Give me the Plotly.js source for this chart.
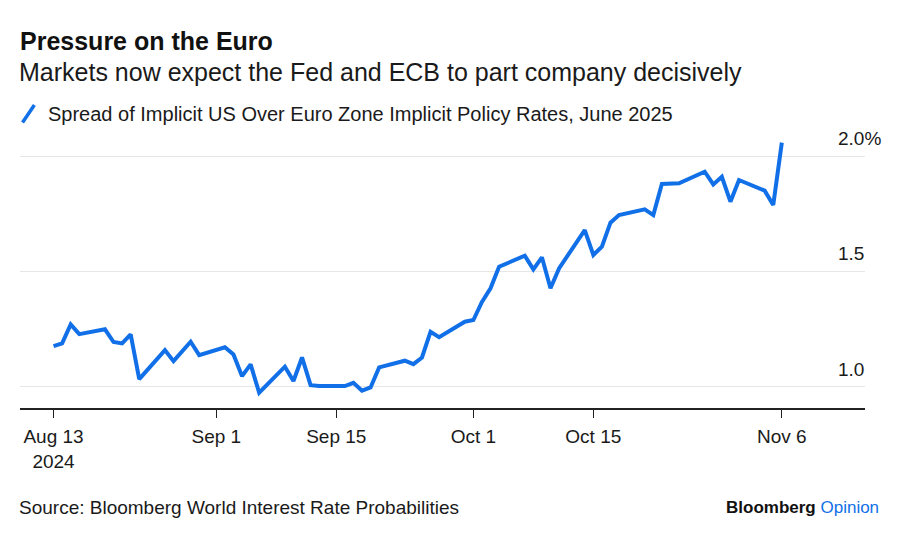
<!DOCTYPE html>
<html>
<head>
<meta charset="utf-8">
<script src="https://cdn.plot.ly/plotly-3.0.1.min.js"></script>
<style>html,body{margin:0;padding:0;background:#fff;}#chart{width:900px;height:538px;}</style>
</head>
<body>
<div id="chart"></div>
<script>
var dates = [
  "2024-08-13","2024-08-14","2024-08-15","2024-08-16","2024-08-19","2024-08-20","2024-08-21","2024-08-22","2024-08-23",
  "2024-08-26","2024-08-27","2024-08-28","2024-08-29","2024-08-30",
  "2024-09-02","2024-09-03","2024-09-04","2024-09-05","2024-09-06",
  "2024-09-09","2024-09-10","2024-09-11","2024-09-12","2024-09-13",
  "2024-09-16","2024-09-17","2024-09-18","2024-09-19","2024-09-20",
  "2024-09-23","2024-09-24","2024-09-25","2024-09-26","2024-09-27",
  "2024-09-30","2024-10-01","2024-10-02","2024-10-03","2024-10-04",
  "2024-10-07","2024-10-08","2024-10-09","2024-10-10","2024-10-11",
  "2024-10-14","2024-10-15","2024-10-16","2024-10-17","2024-10-18",
  "2024-10-21","2024-10-22","2024-10-23","2024-10-24","2024-10-25",
  "2024-10-28","2024-10-29","2024-10-30","2024-10-31","2024-11-01",
  "2024-11-04","2024-11-05","2024-11-06"
];
var spread = [
  1.176,1.188,1.270,1.228,1.249,1.194,1.188,1.227,1.033,
  1.159,1.111,1.153,1.195,1.137,
  1.171,1.140,1.046,1.097,0.974,
  1.087,1.025,1.127,1.007,1.003,
  1.003,1.017,0.983,0.997,1.084,
  1.113,1.098,1.127,1.238,1.215,
  1.282,1.289,1.368,1.427,1.520,
  1.568,1.509,1.561,1.427,1.513,
  1.679,1.571,1.607,1.711,1.744,
  1.769,1.744,1.879,1.880,1.882,
  1.932,1.877,1.910,1.802,1.896,
  1.850,1.788,2.058
];
var xTickVals = ["2024-08-13","2024-09-01","2024-09-15","2024-10-01","2024-10-15","2024-11-06"];
var xTickText = ["Aug 13<br>2024","Sep 1","Sep 15","Oct 1","Oct 15","Nov 6"];
var yTickVals = [1.0, 1.5, 2.0];
var yTickText = ["1.0","1.5","2.0%"];
var seriesName = "Spread of Implicit US Over Euro Zone Implicit Policy Rates, June 2025";
var subtitle = "Markets now expect the Fed and ECB to part company decisively";
var source = "Source: Bloomberg World Interest Rate Probabilities";

var BLUE = "#1170e8";
var FONT = "Liberation Sans, Arial, sans-serif";

var trace = {
  x: dates, y: spread, type: "scatter", mode: "lines",
  line: {color: BLUE, width: 4, shape: "linear"},
  name: seriesName, showlegend: false, hoverinfo: "skip"
};

// paper coords: plot area spans x 20..865 px, y 135..408 px
var annotations = yTickVals.map(function(v, i){
  return {xref: "paper", yref: "y", x: 0.966, y: v, xanchor: "left", yanchor: "bottom",
          yshift: 5, text: yTickText[i], showarrow: false,
          font: {family: FONT, size: 19, color: "#1a1a1a"}};
});
annotations.push({xref: "paper", yref: "paper", x: 0.031, y: 1.077, xanchor: "left", yanchor: "middle",
  text: seriesName, showarrow: false, font: {family: FONT, size: 20, color: "#1a1a1a"}});
annotations.push({xref: "paper", yref: "paper", x: -0.003, y: 1.23, xanchor: "left", yanchor: "middle",
  text: subtitle, showarrow: false, font: {family: FONT, size: 25, color: "#1a1a1a"}});
annotations.push({xref: "paper", yref: "paper", x: -0.003, y: -0.366, xanchor: "left", yanchor: "middle",
  text: source, showarrow: false, font: {family: FONT, size: 19, color: "#1a1a1a"}});
annotations.push({xref: "paper", yref: "paper", x: 1.0195, y: -0.363, xanchor: "right", yanchor: "middle",
  text: "<b>Bloomberg</b> <span style='color:" + BLUE + "'>Opinion</span>", showarrow: false,
  font: {family: FONT, size: 17, color: "#111"}});

var layout = {
  width: 900, height: 538,
  paper_bgcolor: "#fff", plot_bgcolor: "#fff",
  margin: {l: 20, r: 35, t: 135, b: 130},
  title: {text: "<b>Pressure on the Euro</b>", x: 20/900, xref: "container", xanchor: "left",
          y: 1 - 41/538, yref: "container", yanchor: "middle",
          font: {family: FONT, size: 25, color: "#111"}},
  showlegend: false,
  xaxis: {
    type: "date", range: ["2024-08-09 02:00", "2024-11-15 17:00"],
    tickvals: xTickVals, ticktext: xTickText, ticks: "outside", ticklen: 8, tickwidth: 1, tickcolor: "#222",
    ticklabelstandoff: 3,
    showgrid: false, zeroline: false, showline: true, linecolor: "#222", linewidth: 1.5,
    tickfont: {family: FONT, size: 19, color: "#1a1a1a"}, fixedrange: true
  },
  yaxis: {
    range: [0.908, 2.091], tickvals: yTickVals, showticklabels: false,
    showgrid: true, gridcolor: "#e6e6e6", gridwidth: 1, zeroline: false, showline: false, ticks: "",
    fixedrange: true
  },
  shapes: [{type: "line", xref: "paper", yref: "paper", x0: 0.003, y0: 1.046, x1: 0.017, y1: 1.11,
            line: {color: BLUE, width: 3.5}}],
  annotations: annotations
};

Plotly.newPlot("chart", [trace], layout, {displayModeBar: false, staticPlot: true});
</script>
</body>
</html>
